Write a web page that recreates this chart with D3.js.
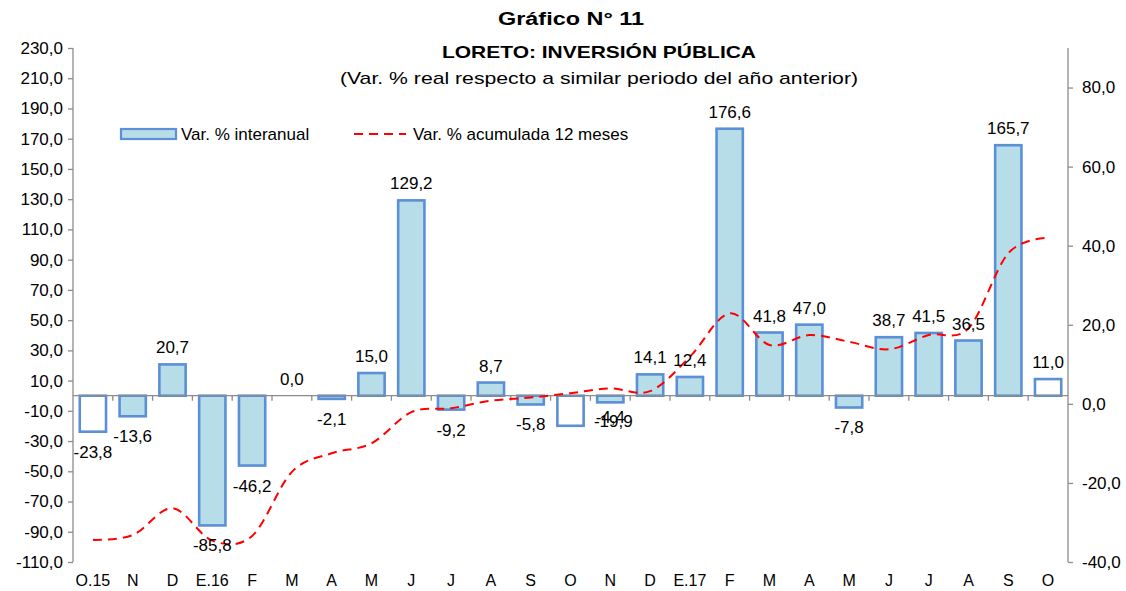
<!DOCTYPE html>
<html>
<head>
<meta charset="utf-8">
<script src="https://cdn.jsdelivr.net/npm/d3@7"></script>
<style>
  html, body { margin: 0; padding: 0; background: #ffffff; }
  svg { display: block; }
  text { font-family: "Liberation Sans", Arial, sans-serif; fill: #000; }
</style>
</head>
<body>
<svg id="chart" width="1126" height="591"></svg>
<script>
// ---- data ----
const categories = ["O.15","N","D","E.16","F","M","A","M","J","J","A","S","O","N","D","E.17","F","M","A","M","J","J","A","S","O"];
const interanual = [-23.8,-13.6,20.7,-85.8,-46.2,0.0,-2.1,15.0,129.2,-9.2,8.7,-5.8,-19.9,-4.4,14.1,12.4,176.6,41.8,47.0,-7.8,38.7,41.5,36.5,165.7,11.0];
const acumulada = [-34.4,-33.2,-26.4,-34.6,-33.4,-17.2,-12.5,-10.0,-2.1,-1.1,0.8,1.6,2.7,3.9,3.2,11.9,22.9,14.9,17.4,15.7,13.8,17.4,19.1,38.1,42.0];
const leftTicks = [230,210,190,170,150,130,110,90,70,50,30,10,-10,-30,-50,-70,-90,-110];
const rightTicks = [80,60,40,20,0,-20,-40];
const titleText = "Gráfico N° 11";
const title2Text = "LORETO: INVERSIÓN PÚBLICA";
const subtitleText = "(Var. % real respecto a similar periodo del año anterior)";
const legendLabels = ["Var. % interanual", "Var. % acumulada 12 meses"];

// ---- layout ----
const plot = { left: 73, right: 1068, top: 48, bottom: 562 };
const barFill = "#b7dde8", barStroke = "#5b8fd6", axisColor = "#8c8c8c";
const fmt = v => d3.format(".1f")(v).replace(".", ",").replace("\u2212", "-");
const tickFont = 17, labelFont = 17, catFont = 16, legendFont = 17;

const svg = d3.select("#chart");
const idx = categories.map((c, i) => i);

const x = d3.scaleBand().domain(idx).range([plot.left, plot.right]).paddingInner(0.34).paddingOuter(0.17);
const yL = d3.scaleLinear().domain([-110, 230]).range([plot.bottom, plot.top]);
const yR = d3.scaleLinear().domain([-40, 90]).range([plot.bottom, plot.top]);
const step = x.step();

// titles
svg.append("text").attr("x", 571).attr("y", 25).attr("text-anchor", "middle")
  .attr("font-size", 18).attr("font-weight", "bold")
  .attr("textLength", 146).attr("lengthAdjust", "spacingAndGlyphs").text(titleText);
svg.append("text").attr("x", 599).attr("y", 58).attr("text-anchor", "middle")
  .attr("font-size", 17).attr("font-weight", "bold")
  .attr("textLength", 314).attr("lengthAdjust", "spacingAndGlyphs").text(title2Text);
svg.append("text").attr("x", 599).attr("y", 84).attr("text-anchor", "middle")
  .attr("font-size", 17)
  .attr("textLength", 518).attr("lengthAdjust", "spacingAndGlyphs").text(subtitleText);

// left & right axes
const axL = d3.axisLeft(yL).tickValues(leftTicks).tickSize(5).tickFormat(fmt);
const gL = svg.append("g").attr("transform", `translate(${plot.left},0)`).call(axL);
const axR = d3.axisRight(yR).tickValues(rightTicks).tickSize(5).tickFormat(fmt);
const gR = svg.append("g").attr("transform", `translate(${plot.right},0)`).call(axR);
[gL, gR].forEach(g => {
  g.select(".domain").attr("stroke", axisColor).attr("stroke-width", 1.3)
    .attr("d", `M0,${plot.top}V${plot.bottom}`);
  g.selectAll(".tick line").attr("stroke", axisColor).attr("stroke-width", 1.3);
  g.selectAll(".tick text").attr("font-size", tickFont).attr("fill", "#000")
    .attr("font-family", '"Liberation Sans", Arial, sans-serif');
});
gL.selectAll(".tick text").attr("x", -10);
gR.selectAll(".tick text").attr("x", 14);

// category axis at zero
const y0 = yL(0);
const gX = svg.append("g");
gX.selectAll("line.tk").data(d3.range(1, categories.length)).enter().append("line")
  .attr("class", "tk")
  .attr("x1", i => plot.left + i * step).attr("x2", i => plot.left + i * step)
  .attr("y1", y0).attr("y2", y0 + 5).attr("stroke", axisColor).attr("stroke-width", 1.3);

// category labels
svg.append("g").selectAll("text").data(idx).enter().append("text")
  .attr("x", i => x(i) + x.bandwidth() / 2).attr("y", 586)
  .attr("text-anchor", "middle").attr("font-size", catFont)
  .text(i => categories[i]);

// bars
svg.append("g").selectAll("rect").data(idx).enter().append("rect")
  .attr("x", i => x(i))
  .attr("width", x.bandwidth())
  .attr("y", i => Math.min(yL(interanual[i]), y0))
  .attr("height", i => Math.abs(yL(interanual[i]) - y0))
  .attr("fill", i => categories[i].startsWith("O") ? "#ffffff" : barFill)
  .attr("stroke", barStroke).attr("stroke-width", 2.6);

// zero axis over bars
svg.append("line").attr("x1", plot.left).attr("x2", plot.right).attr("y1", y0).attr("y2", y0)
  .attr("stroke", axisColor).attr("stroke-width", 1.3);

// line (right axis)
const line = d3.line()
  .x((d, i) => x(i) + x.bandwidth() / 2)
  .y(d => yR(d))
  .curve(d3.curveCatmullRom.alpha(0));
svg.append("path").datum(acumulada).attr("d", line)
  .attr("fill", "none").attr("stroke", "#ff0000").attr("stroke-width", 2)
  .attr("stroke-dasharray", "9,6");

// data labels
const labelPos = i => {
  // in the original, the October-2016 label sits on top of the November label
  const v = interanual[i];
  if (i === 12) return { x: x(13) + x.bandwidth() / 2 + 3, y: yL(interanual[13]) + 25 };
  if (i === 13) return { x: x(13) + x.bandwidth() / 2, y: yL(interanual[13]) + 21 };
  if (v >= 0) return { x: x(i) + x.bandwidth() / 2, y: yL(v) - 11 };
  return { x: x(i) + x.bandwidth() / 2, y: yL(v) + 26 };
};
svg.append("g").selectAll("text").data(idx).enter().append("text")
  .attr("x", i => labelPos(i).x).attr("y", i => labelPos(i).y)
  .attr("text-anchor", "middle").attr("font-size", labelFont)
  .text(i => fmt(interanual[i]));

// legend
const lg = svg.append("g");
lg.append("rect").attr("x", 121).attr("y", 129).attr("width", 55).attr("height", 10)
  .attr("fill", barFill).attr("stroke", barStroke).attr("stroke-width", 2.2);
lg.append("text").attr("x", 181).attr("y", 140).attr("font-size", legendFont).text(legendLabels[0]);
lg.append("line").attr("x1", 354).attr("x2", 406).attr("y1", 134).attr("y2", 134)
  .attr("stroke", "#ff0000").attr("stroke-width", 2).attr("stroke-dasharray", "9,6");
lg.append("text").attr("x", 413).attr("y", 140).attr("font-size", legendFont).text(legendLabels[1]);
</script>
</body>
</html>
